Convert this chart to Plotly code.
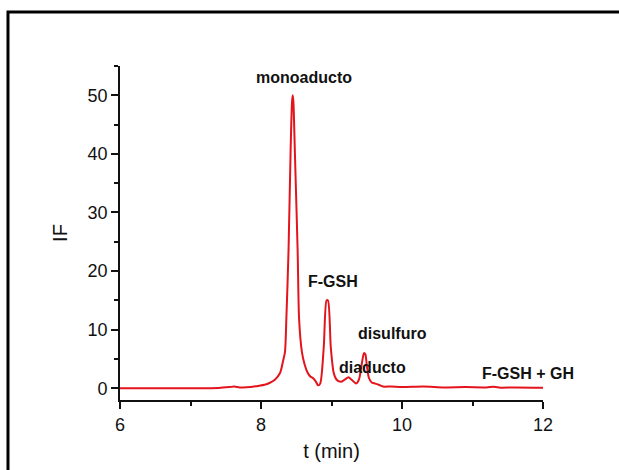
import plotly.graph_objects as go

# Chromatogram trace: retention time (min) and fluorescence intensity
t_min = [6.00, 6.50, 7.00, 7.40, 7.55, 7.62, 7.70, 7.85, 7.95, 8.05, 8.12, 8.20,
         8.27, 8.31, 8.34, 8.36, 8.39, 8.42, 8.44, 8.45, 8.46, 8.48, 8.52, 8.54,
         8.58, 8.62, 8.66, 8.70, 8.74, 8.78, 8.81, 8.84, 8.89, 8.93, 8.95, 8.99,
         9.03, 9.07, 9.13, 9.19, 9.24, 9.29, 9.35, 9.39, 9.43, 9.46, 9.48, 9.50,
         9.53, 9.57, 9.62, 9.67, 9.73, 9.85, 10.0, 10.3, 10.6, 10.9, 11.2, 11.3,
         11.4, 11.6, 12.0]
intensity = [0.0, 0.0, 0.0, 0.05, 0.2, 0.3, 0.15, 0.2, 0.4, 0.6, 0.9, 1.5,
             2.6, 4.5, 6.2, 12.0, 23.3, 40.5, 48.8, 50.0, 48.8, 40.5, 23.3, 11.9,
             6.2, 4.0, 2.7, 2.0, 1.7, 1.1, 0.5, 0.8, 7.0, 15.0, 15.0, 7.0,
             2.7, 1.5, 1.1, 1.5, 1.9, 1.4, 0.8, 1.5, 4.2, 6.0, 5.8, 4.0,
             1.8, 1.0, 0.8, 0.6, 0.3, 0.3, 0.2, 0.3, 0.15, 0.2, 0.15, 0.25,
             0.1, 0.15, 0.1]

# Peak labels and where they sit (t, IF)
peak_names = ["monoaducto", "F-GSH", "disulfuro", "diaducto", "F-GSH + GH"]
label_t = [8.61, 9.02, 9.87, 9.58, 11.79]
label_if = [53.1, 18.2, 9.4, 3.5, 2.6]

x_ticks = [6, 8, 10, 12]
y_ticks = [0, 10, 20, 30, 40, 50]

FONT = "Liberation Sans, Arial, sans-serif"

fig = go.Figure()
fig.add_trace(go.Scatter(
    x=t_min, y=intensity, mode="lines",
    line=dict(color="#e3141c", width=2, shape="spline", smoothing=0.7),
    hoverinfo="skip", showlegend=False,
))

for name, tx, ty in zip(peak_names, label_t, label_if):
    fig.add_annotation(x=tx, y=ty, xref="x", yref="y", text=f"<b>{name}</b>",
                       showarrow=False, font=dict(family=FONT, size=16, color="#111"))

axis_common = dict(
    showgrid=False, zeroline=False, showline=True, linecolor="#111", linewidth=1.8,
    ticks="outside", tickcolor="#111", tickwidth=1.8, ticklen=7,
    tickfont=dict(family=FONT, size=18, color="#111"),
)
fig.update_xaxes(range=[6, 12], tickvals=x_ticks,
                 minor=dict(dtick=1, tick0=6, ticks="outside", ticklen=4,
                            tickcolor="#111", tickwidth=1.8),
                 title=dict(text="t (min)", font=dict(family=FONT, size=20, color="#111"),
                            standoff=10),
                 **axis_common)
fig.update_yaxes(range=[-2, 55], tickvals=y_ticks,
                 minor=dict(dtick=5, tick0=0, ticks="outside", ticklen=4,
                            tickcolor="#111", tickwidth=1.8),
                 title=dict(text="IF", font=dict(family=FONT, size=20, color="#111"),
                            standoff=14),
                 **axis_common)

# Outer frame around the figure
fig.add_shape(type="rect", xref="paper", yref="paper",
              x0=-0.2648, x1=1.3, y0=-0.3, y1=1.1617,
              line=dict(color="#000", width=3), fillcolor="rgba(0,0,0,0)")

fig.update_layout(
    width=619, height=470,
    margin=dict(l=120, r=76, t=66, b=70),
    paper_bgcolor="white", plot_bgcolor="white",
    font=dict(family=FONT, color="#111"),
)

fig.write_html("out.html")
